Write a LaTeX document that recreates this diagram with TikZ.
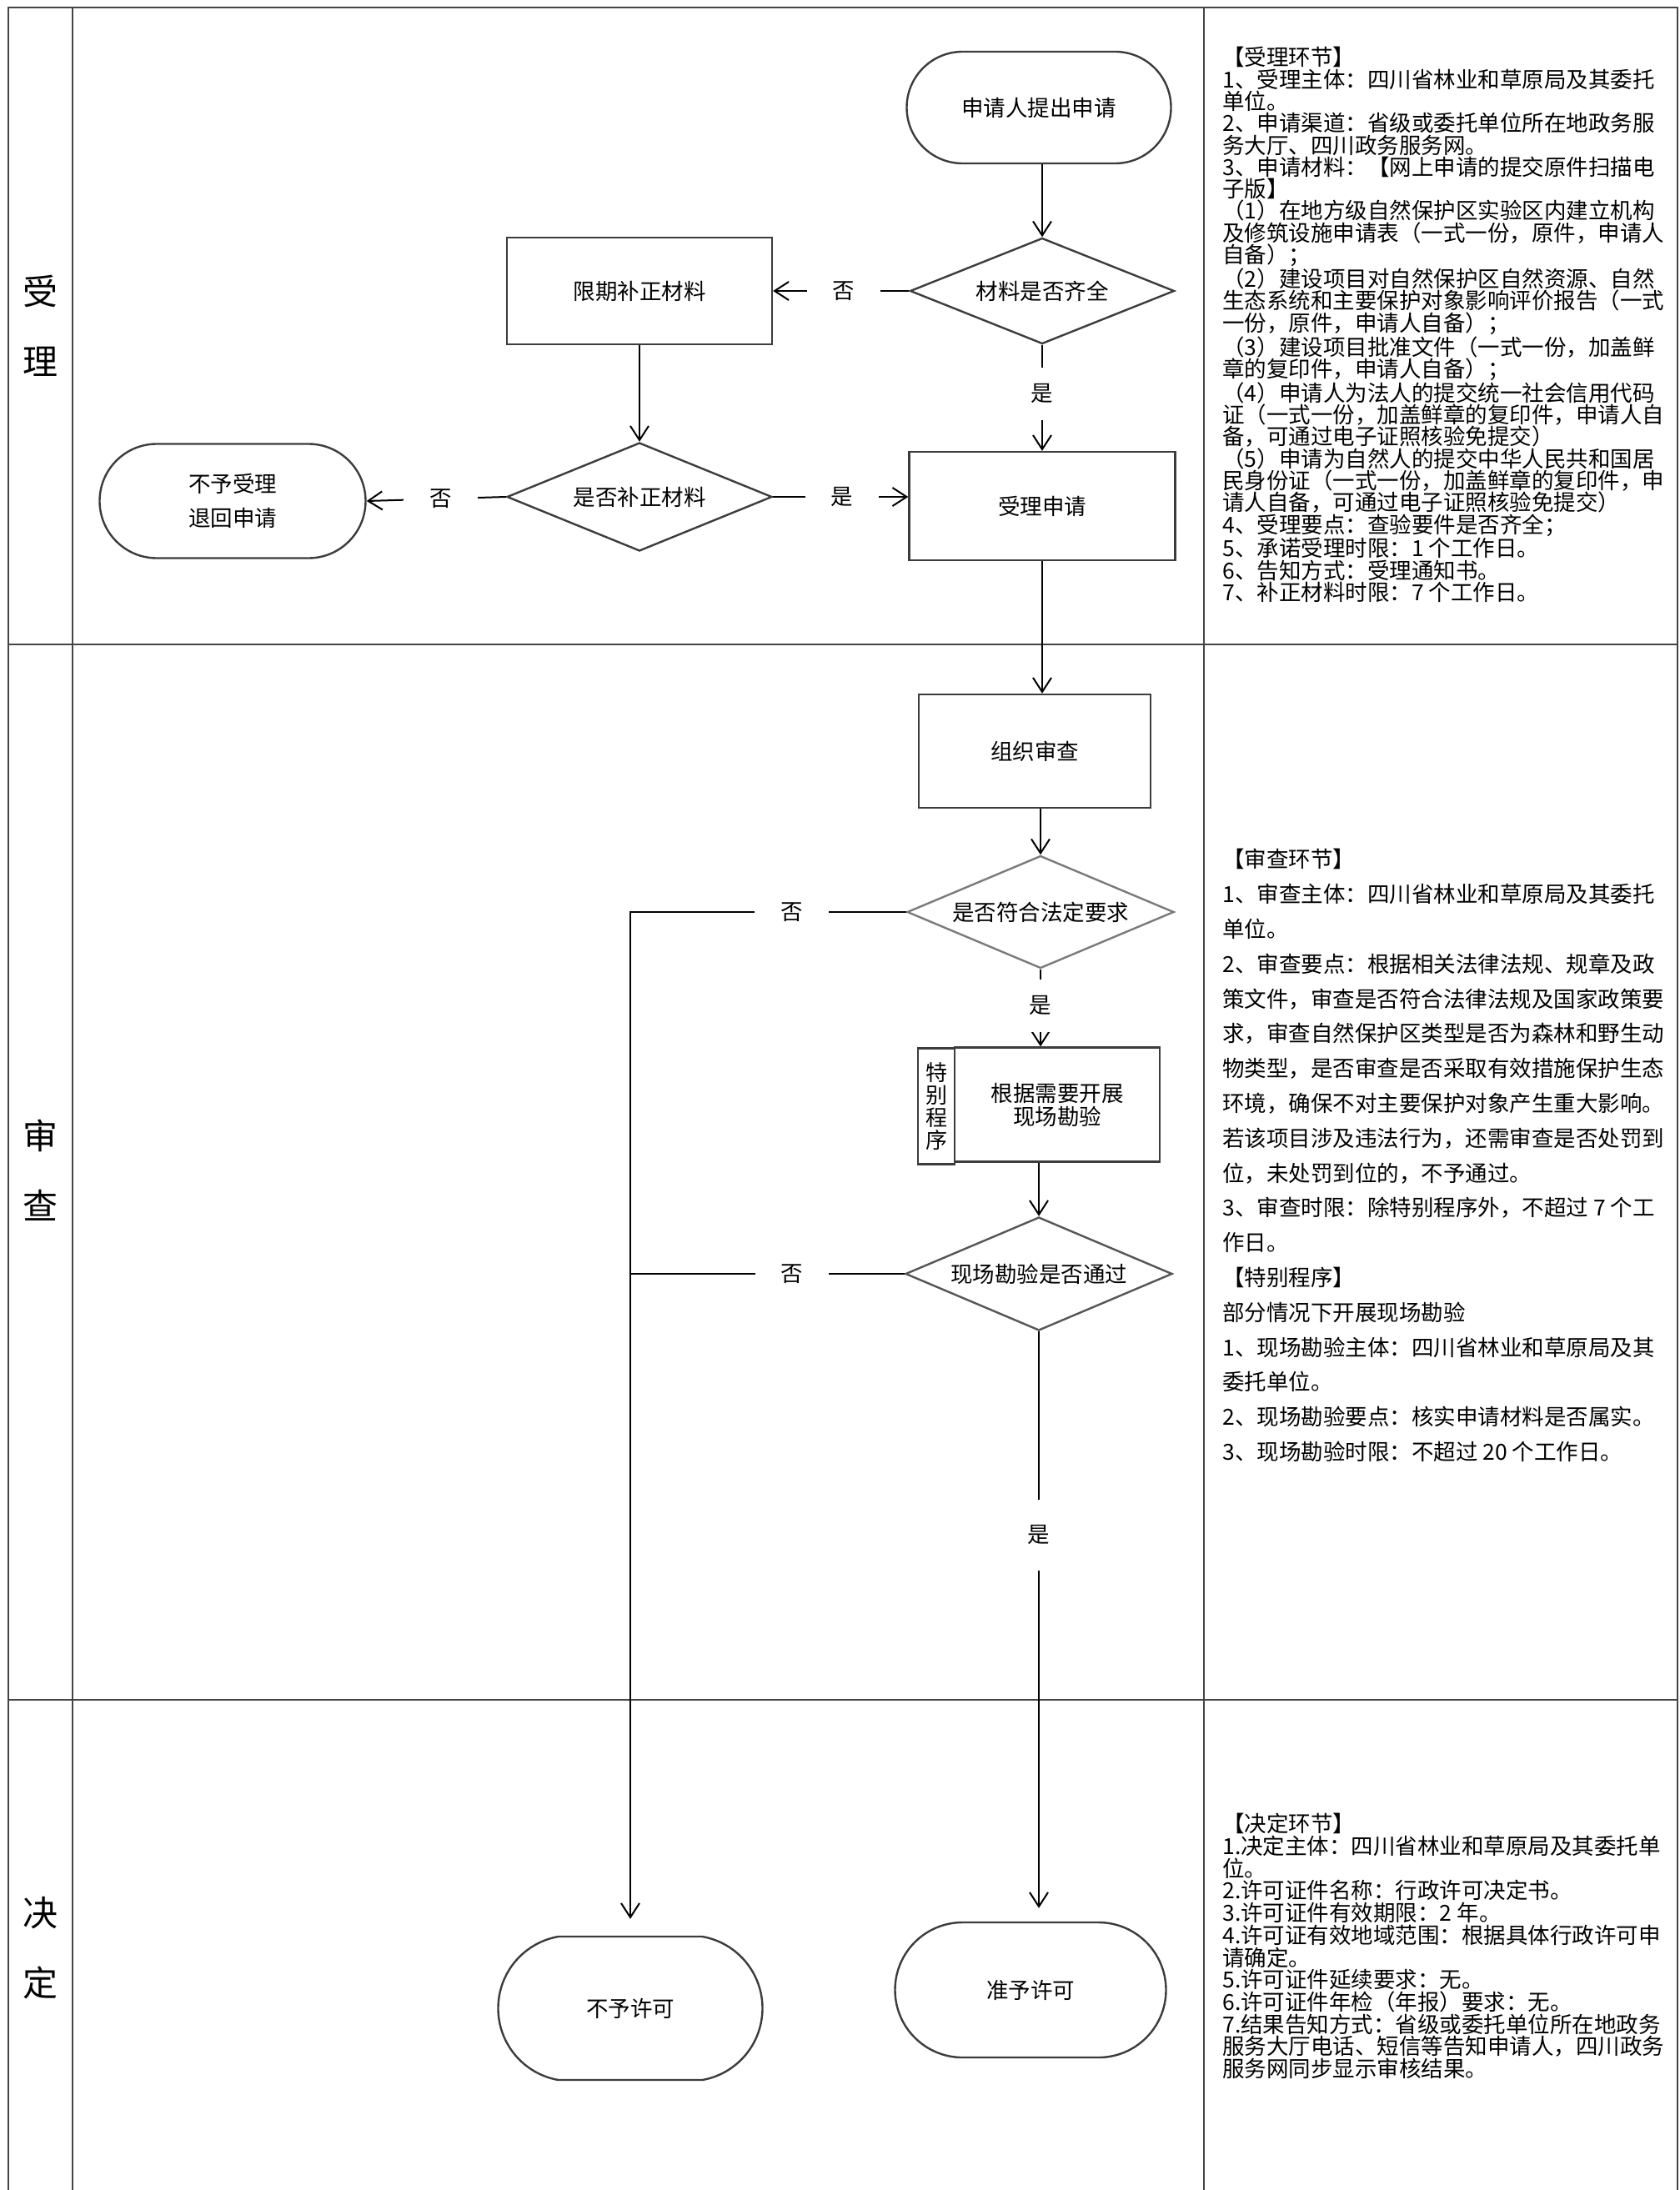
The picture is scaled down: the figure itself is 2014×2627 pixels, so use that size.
\documentclass[tikz,border=0pt]{standalone}
\usepackage{fontspec}
\setmainfont{Noto Sans CJK SC}
\usetikzlibrary{shapes.geometric,shapes.misc,arrows.meta}
\definecolor{framec}{HTML}{444444}
\definecolor{nodeb}{HTML}{3C3C3C}
\definecolor{grayd}{HTML}{7A7A7A}
\definecolor{grayd2}{HTML}{555555}
\begin{document}
\begin{tikzpicture}[x=0.5pt,y=-0.5pt,
  every node/.style={font=\fontsize{13.25pt}{16pt}\selectfont, inner sep=0pt},
  box/.style={draw=nodeb, line width=1.2pt, rectangle, align=center},
  term/.style={draw=nodeb, line width=1.2pt, rounded rectangle, align=center},
  dia/.style={draw=nodeb, line width=1.2pt, diamond, aspect=2.4, align=center},
  conn/.style={line width=1pt, -{Straight Barb[length=8.5pt,width=11pt]}},
  plainln/.style={line width=1pt},
  hlbl/.style={fill=white, inner xsep=15.5pt, inner ysep=3pt},
  vlbl/.style={fill=white, inner ysep=10pt, inner xsep=3pt},
  vlblb/.style={fill=white, inner ysep=15.5pt, inner xsep=3pt},
  framel/.style={draw=framec, line width=1.3pt},
  lanel/.style={font=\fontsize{21pt}{42pt}\selectfont, align=center},
  infoa/.style={anchor=north west, align=left, font=\fontsize{13.25pt}{13.15pt}\selectfont},
  infoc/.style={anchor=north west, align=left, font=\fontsize{13.25pt}{13.35pt}\selectfont},
  infob/.style={anchor=north west, align=left, font=\fontsize{13.25pt}{20.9pt}\selectfont}
]
\useasboundingbox (0,0) rectangle (2014,2627);

% frame
\draw[framel] (10,2627) -- (10,9) -- (2012,9) -- (2012,2627);
\draw[framel] (87,9) -- (87,2627);
\draw[framel] (1444,9) -- (1444,2627);
\draw[framel] (10,773) -- (2012,773);
\draw[framel] (10,2039) -- (2012,2039);

% lane labels
\node[lanel] (l1) at (48,391) {受\\理};
\node[lanel] (l2) at (48,1404) {审\\查};
\node[lanel] (l3) at (48,2337) {决\\定};

% lane 1 nodes
\node[term, minimum width=158.5pt, minimum height=67pt] (s1) at (1246,129) {申请人提出申请};
\node[dia, minimum width=158.5pt, minimum height=63.5pt] (d1) at (1250,349) {材料是否齐全};
\node[box, minimum width=159pt, minimum height=64pt] (r1) at (767,349) {限期补正材料};
\node[box, minimum width=159.5pt, minimum height=65pt] (r2) at (1250,607) {受理申请};
\node[dia, minimum width=159pt, minimum height=65pt] (d2) at (767,596) {是否补正材料};
\node[term, minimum width=159.5pt, minimum height=68.5pt, font=\fontsize{13.25pt}{20.5pt}\selectfont] (s2) at (279,601) {不予受理\\退回申请};

% lane 2 nodes
\node[box, minimum width=139pt, minimum height=68pt] (r3) at (1241,901) {组织审查};
\node[dia, draw=grayd, minimum width=160pt, minimum height=67.5pt] (d3) at (1248,1094) {是否符合法定要求};
\node[box, minimum width=22pt, minimum height=69.5pt, font=\fontsize{13pt}{13.5pt}\selectfont] (sp) at (1123,1327) {特\\别\\程\\序};
\node[box, minimum width=123pt, minimum height=68.5pt, font=\fontsize{13.25pt}{14pt}\selectfont] (r4) at (1268,1325) {根据需要开展\\现场勘验};
\node[dia, draw=grayd2, minimum width=160pt, minimum height=68pt] (d4) at (1246,1528) {现场勘验是否通过};

% lane 3 nodes
\node[term, rounded rectangle arc length=160, minimum width=158.5pt, minimum height=86pt] (e1) at (756,2409) {不予许可};
\node[term, minimum width=162.5pt, minimum height=81pt] (e2) at (1236,2387) {准予许可};

% connectors lane 1
\draw[conn] (d1.north |- s1.south) -- (d1.north);
\draw[conn] (d1.west) -- node[hlbl,pos=0.48]{否} (r1.east);
\draw[conn] (d1.south) -- node[vlbl,pos=0.46]{是} (r2.north);
\draw[conn] (r1.south) -- (d2.north);
\draw[conn] (d2.west) -- node[hlbl,pos=0.47]{否} (s2.east);
\draw[conn] (d2.east) -- node[hlbl,pos=0.51]{是} (d2.east -| r2.west);
\draw[conn] (r2.south) -- (r2.south |- r3.north);

% connectors lane 2/3
\draw[conn] (d3.north |- r3.south) -- (d3.north);
\draw[conn] (d3.south) -- node[vlbl,pos=0.47]{是} (d3.south |- r4.north);
\draw[conn] (d4.north |- r4.south) -- (d4.north);
\draw[conn, shorten >=8pt] (d4.south) -- node[vlblb,pos=0.345]{是} (d4.south |- e2.north);
\coordinate (c1) at (e1.north |- d3.west);
\coordinate (c2) at (e1.north |- d4.west);
\draw[conn, shorten >=10pt] (d3.west) -- node[hlbl,pos=0.415]{否} (c1) -- (e1.north);
\draw[plainln] (d4.west) -- node[hlbl,pos=0.41]{否} (c2);

% info texts
\node[infoa] (t1) at (1466,56) {【受理环节】\\
1、受理主体：四川省林业和草原局及其委托\\
单位。\\
2、申请渠道：省级或委托单位所在地政务服\\
务大厅、四川政务服务网。\\
3、申请材料：【网上申请的提交原件扫描电\\
子版】\\
（1）在地方级自然保护区实验区内建立机构\\
及修筑设施申请表（一式一份，原件，申请人\\
自备）；\\
（2）建设项目对自然保护区自然资源、自然\\
生态系统和主要保护对象影响评价报告（一式\\
一份，原件，申请人自备）；\\
（3）建设项目批准文件（一式一份，加盖鲜\\
章的复印件，申请人自备）；\\
（4）申请人为法人的提交统一社会信用代码\\
证（一式一份，加盖鲜章的复印件，申请人自\\
备，可通过电子证照核验免提交）\\
（5）申请为自然人的提交中华人民共和国居\\
民身份证（一式一份，加盖鲜章的复印件，申\\
请人自备，可通过电子证照核验免提交）\\
4、受理要点：查验要件是否齐全；\\
5、承诺受理时限：1 个工作日。\\
6、告知方式：受理通知书。\\
7、补正材料时限：7 个工作日。};

\node[infob] (t2) at (1466,1018) {【审查环节】\\
1、审查主体：四川省林业和草原局及其委托\\
单位。\\
2、审查要点：根据相关法律法规、规章及政\\
策文件，审查是否符合法律法规及国家政策要\\
求，审查自然保护区类型是否为森林和野生动\\
物类型，是否审查是否采取有效措施保护生态\\
环境，确保不对主要保护对象产生重大影响。\\
若该项目涉及违法行为，还需审查是否处罚到\\
位，未处罚到位的，不予通过。\\
3、审查时限：除特别程序外，不超过 7 个工\\
作日。\\
【特别程序】\\
部分情况下开展现场勘验\\
1、现场勘验主体：四川省林业和草原局及其\\
委托单位。\\
2、现场勘验要点：核实申请材料是否属实。\\
3、现场勘验时限：不超过 20 个工作日。};

\node[infoc] (t3) at (1466,2175) {【决定环节】\\
1.决定主体：四川省林业和草原局及其委托单\\
位。\\
2.许可证件名称：行政许可决定书。\\
3.许可证件有效期限：2 年。\\
4.许可证有效地域范围：根据具体行政许可申\\
请确定。\\
5.许可证件延续要求：无。\\
6.许可证件年检（年报）要求：无。\\
7.结果告知方式：省级或委托单位所在地政务\\
服务大厅电话、短信等告知申请人，四川政务\\
服务网同步显示审核结果。};
\end{tikzpicture}
\end{document}
